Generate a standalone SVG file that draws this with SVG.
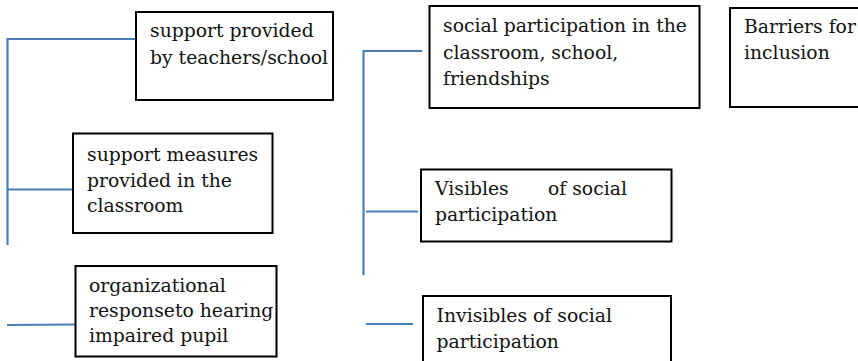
<svg xmlns="http://www.w3.org/2000/svg" width="858" height="361" viewBox="0 0 858 361">
<style>
.box{fill:#fff;stroke:#000;stroke-width:2}
.t{font-family:"DejaVu Serif","Liberation Serif",serif;font-size:18.8px;fill:#111}
.c{stroke:#4a7ebb;stroke-width:2.2;fill:none}
</style>
<rect width="858" height="361" fill="#fff"/>
<g id="connectors">
<line class="c" x1="7.5" y1="38" x2="7.5" y2="245"/>
<line class="c" x1="7.5" y1="39" x2="136" y2="39"/>
<line class="c" x1="8" y1="189.5" x2="73" y2="189.5"/>
<line class="c" x1="7" y1="325" x2="75" y2="324.5"/>
<line class="c" x1="363.5" y1="50" x2="363.5" y2="275"/>
<line class="c" x1="363.5" y1="51" x2="422" y2="51"/>
<line class="c" x1="366" y1="211.5" x2="418" y2="211.5"/>
<line class="c" x1="366" y1="324" x2="413" y2="324"/>
</g>
<g id="n1">
<rect class="box" x="136" y="12" width="197" height="88"/>
<text class="t"><tspan x="150" y="37">support provided</tspan><tspan x="150" y="64">by teachers/school</tspan></text>
</g>
<g id="n2">
<rect class="box" x="73" y="133.5" width="199.5" height="99.5"/>
<text class="t"><tspan x="87" y="161">support measures</tspan><tspan x="87" y="187">provided in the</tspan><tspan x="87" y="212">classroom</tspan></text>
</g>
<g id="n3">
<rect class="box" x="75.5" y="266" width="201" height="90.5"/>
<text class="t"><tspan x="89" y="291.5">organizational</tspan><tspan x="89" y="317">responseto hearing</tspan><tspan x="89" y="342">impaired pupil</tspan></text>
</g>
<g id="n4">
<rect class="box" x="429.5" y="6" width="270" height="102"/>
<text class="t"><tspan x="443" y="32">social participation in the</tspan><tspan x="443" y="58.5">classroom, school,</tspan><tspan x="443" y="85">friendships</tspan></text>
</g>
<g id="n5">
<rect class="box" x="730" y="8" width="140" height="99"/>
<text class="t"><tspan x="744" y="33">Barriers for</tspan><tspan x="744" y="59">inclusion</tspan></text>
</g>
<g id="n6">
<rect class="box" x="421" y="169.5" width="250.5" height="72"/>
<text class="t"><tspan x="435" y="195">Visibles</tspan><tspan x="548" y="195">of social</tspan><tspan x="435" y="221">participation</tspan></text>
</g>
<g id="n7">
<rect class="box" x="423" y="296" width="248" height="80"/>
<text class="t"><tspan x="436.5" y="322">Invisibles of social</tspan><tspan x="436.5" y="347.5">participation</tspan></text>
</g>
</svg>
